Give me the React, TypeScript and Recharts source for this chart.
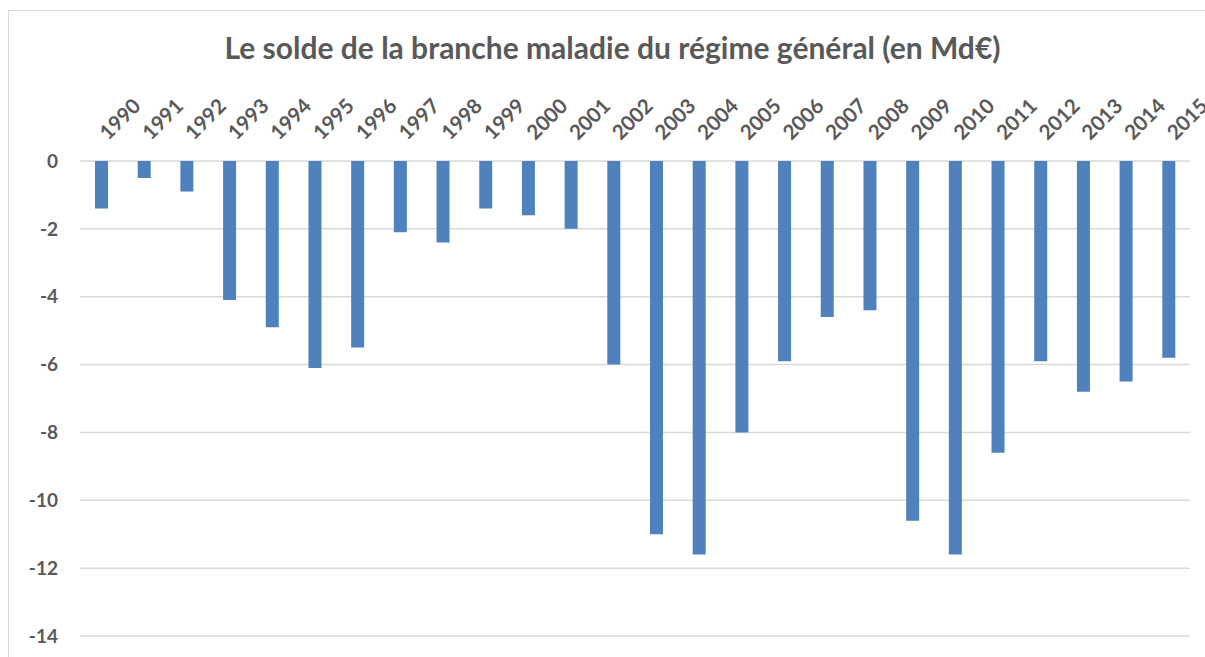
import React from "react";
import { BarChart, Bar, XAxis, YAxis, CartesianGrid } from "recharts";

const YEARS = [
  "1990", "1991", "1992", "1993", "1994", "1995", "1996", "1997", "1998",
  "1999", "2000", "2001", "2002", "2003", "2004", "2005", "2006", "2007",
  "2008", "2009", "2010", "2011", "2012", "2013", "2014", "2015",
];
const SOLDE = [
  -1.4, -0.5, -0.9, -4.1, -4.9, -6.1, -5.5, -2.1, -2.4, -1.4, -1.6, -2.0,
  -6.0, -11.0, -11.6, -8.0, -5.9, -4.6, -4.4, -10.6, -11.6, -8.6, -5.9,
  -6.8, -6.5, -5.8,
];
const Y_TICKS = [0, -2, -4, -6, -8, -10, -12, -14];

const data = YEARS.map((year, i) => ({ year, value: SOLDE[i] }));

const FONT = "Lato, 'Open Sans', sans-serif";
const TEXT = "#595959";

const YearTick = (props: any) => {
  const { x, payload } = props;
  const tx = x + 7;
  return (
    <text
      x={tx}
      y={141}
      transform={`rotate(-45, ${tx}, 141)`}
      textAnchor="start"
      fill={TEXT}
      fontSize={20.5}
      fontWeight={700}
      fontFamily={FONT}
    >
      {payload.value}
    </text>
  );
};

export default function App() {
  return (
    <div style={{ position: "absolute", left: 0, top: 0, width: 1205, height: 657, background: "#fff", overflow: "hidden" }}>
      {/* chart frame, open on the right and bottom like the cropped source */}
      <div
        style={{
          position: "absolute",
          left: 8,
          top: 10,
          width: 1250,
          height: 700,
          border: "1.5px solid #d9d9d9",
          boxSizing: "border-box",
        }}
      />
      <div
        style={{
          position: "absolute",
          top: 29,
          left: 0,
          width: 1225,
          textAlign: "center",
          fontFamily: FONT,
          fontWeight: 700,
          fontSize: 30,
          color: TEXT,
        }}
      >
        Le solde de la branche maladie du régime général (en Md€)
      </div>
      <BarChart
        width={1205}
        height={657}
        data={data}
        margin={{ top: 0, right: 15, bottom: 21, left: 0 }}
        barSize={13}
        style={{ position: "absolute", left: 0, top: 0 }}
      >
        <CartesianGrid vertical={false} stroke="#d9d9d9" strokeWidth={1.5} />
        <XAxis
          dataKey="year"
          orientation="top"
          height={161}
          axisLine={false}
          tickLine={false}
          interval={0}
          tick={<YearTick />}
        />
        <YAxis
          domain={[-14, 0]}
          ticks={Y_TICKS}
          width={80}
          axisLine={false}
          tickLine={false}
          tickSize={0}
          tickMargin={22}
          tick={{ fill: TEXT, fontSize: 19, fontWeight: 700, fontFamily: FONT }}
        />
        <Bar dataKey="value" fill="#4f81bd" isAnimationActive={false} />
      </BarChart>
    </div>
  );
}
